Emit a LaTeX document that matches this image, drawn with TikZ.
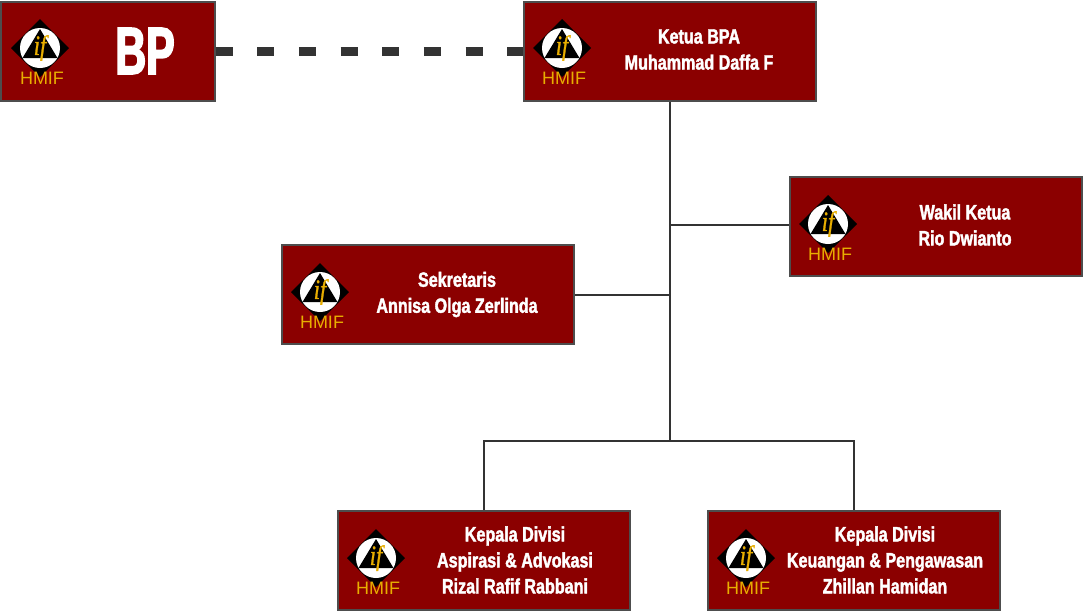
\documentclass[tikz,border=0pt]{standalone}
\usepackage{fontspec}
\setmainfont{Liberation Sans}
\newfontfamily\boxfont[FakeStretch=0.78,FakeBold=1.8]{Liberation Sans}
\newfontfamily\bigfont[FakeStretch=0.64,FakeBold=2.5]{Liberation Sans}
\newfontfamily\iffont[FakeStretch=0.8,FakeBold=1]{Liberation Serif}
\usetikzlibrary{calc}
\definecolor{boxred}{HTML}{8B0000}
\definecolor{boxline}{HTML}{4D4D4D}
\definecolor{linkline}{HTML}{333333}
\definecolor{logogold}{HTML}{E8AE00}
\tikzset{
    orgbox/.style={draw=boxline, fill=boxred, line width=1.5pt, inner sep=0pt,
        minimum width=219pt, minimum height=74.25pt},
    boxtext/.style={white, align=center, font=\boxfont\bfseries\fontsize{15.5}{19.5}\selectfont},
    link/.style={draw=linkline, line width=1.5pt},
    hmiflogo/.pic={
        \fill[black] (-29,0) -- (0,-29) -- (29,0) -- (0,29) -- cycle;
        \fill[white] (0,0) circle (20);
        \fill[black] (0,-19) -- (17.5,10) -- (-17.5,10) -- cycle;
        \node[logogold, inner sep=0pt, font=\iffont\itshape\fontsize{21}{21}\selectfont] (-if) at (0,0) {if};
        \node[logogold, inner sep=0pt, font=\fontsize{13.5}{13.5}\selectfont] (-hmif) at (2,30) {HMIF};
    }
}

\begin{document}
\begin{tikzpicture}[x=0.75pt, y=-0.75pt]
    \useasboundingbox (0, 0) rectangle (1084, 612);

    % boxes
    \node[orgbox, minimum width=160.5pt] (bp) at (107.5, 51) {};
    \node[orgbox] (ketua) at (669.5, 51) {};
    \node[orgbox] (wakil) at (936, 226.5) {};
    \node[orgbox] (sekretaris) at (428, 294.5) {};
    \node[orgbox] (aspirasi) at (484, 560.5) {};
    \node[orgbox] (keuangan) at (854, 560.5) {};

    % logos
    \pic (bplogo) at (40, 48) {hmiflogo};
    \pic (ketualogo) at (562, 48) {hmiflogo};
    \pic (wakillogo) at (828, 224) {hmiflogo};
    \pic (sekretarislogo) at (320, 292) {hmiflogo};
    \pic (aspirasilogo) at (376, 558) {hmiflogo};
    \pic (keuanganlogo) at (746, 558) {hmiflogo};

    % texts
    \node[white, font=\bigfont\bfseries\fontsize{50}{50}\selectfont, inner sep=0pt] (bptext) at (145, 51) {BP};
    \node[boxtext] (ketuatext) at (699, 49.5) {Ketua BPA\\Muhammad Daffa F};
    \node[boxtext] (wakiltext) at (965, 225) {Wakil Ketua\\Rio Dwianto};
    \node[boxtext] (sekretaristext) at (457, 294.5) {Sekretaris\\Annisa Olga Zerlinda};
    \node[boxtext] (aspirasitext) at (515, 560) {Kepala Divisi\\Aspirasi \& Advokasi\\Rizal Rafif Rabbani};
    \node[boxtext] (keuangantext) at (885, 560) {Kepala Divisi\\Keuangan \& Pengawasan\\Zhillan Hamidan};

    % connectors
    \coordinate (fork) at (670, 441);
    \draw[link] (ketua.south -| fork) -- (fork);
    \draw[link] ($(wakil.west)+(0,-1.5)$) -- ($(wakil.west -| fork)+(0,-1.5)$);
    \draw[link] (sekretaris.east) -- (sekretaris.east -| fork);
    \draw[link] (aspirasi.north) |- (fork) -| (keuangan.north);
    \draw[draw=linkline, line width=6.75pt, dash pattern=on 12.75pt off 18.5pt] (bp.east) -- (ketua.west);
\end{tikzpicture}
\end{document}
